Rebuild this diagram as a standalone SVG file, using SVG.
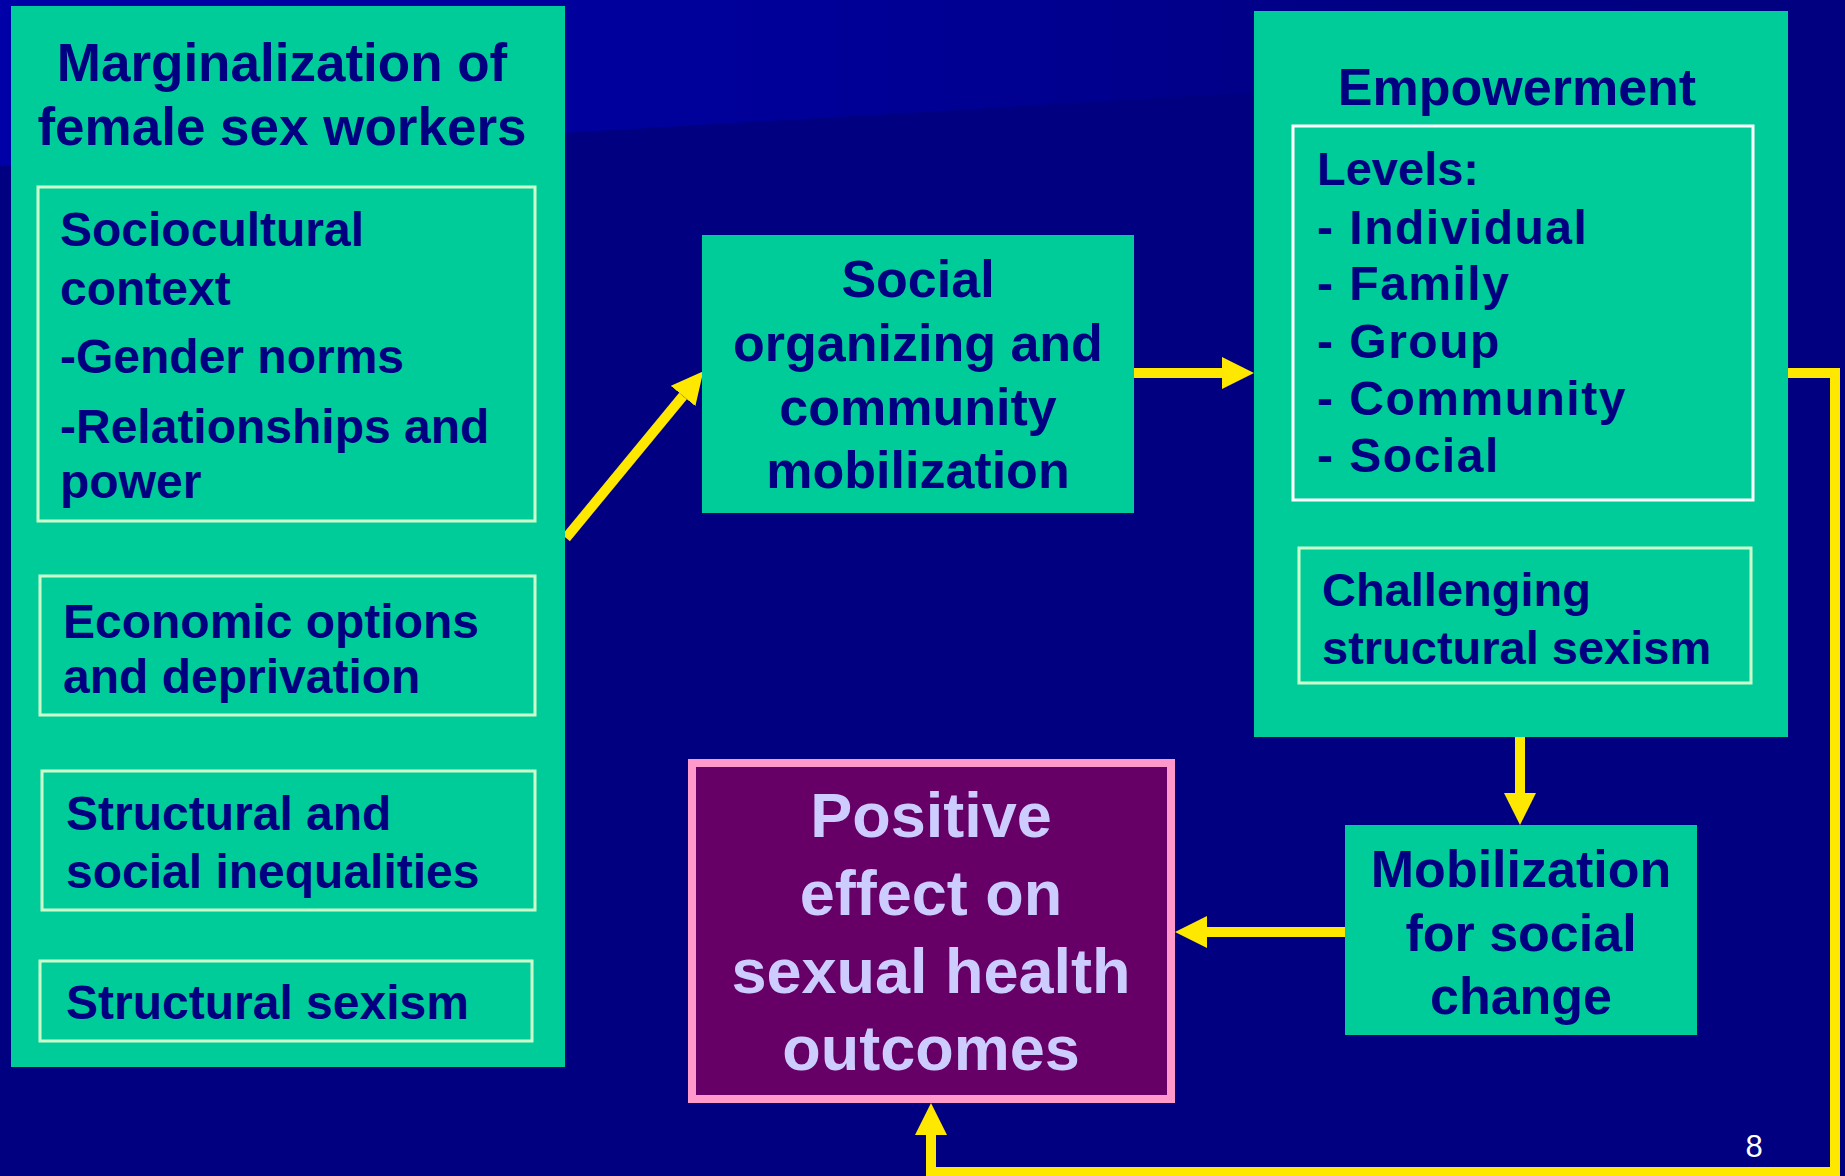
<svg xmlns="http://www.w3.org/2000/svg" width="1845" height="1176" viewBox="0 0 1845 1176">
<style>
.node{fill:#00CC99}
.sub{fill:none;stroke:#CCFFCC;stroke-width:3}
.subw{fill:none;stroke:#FFFFFF;stroke-width:3}
.t{font-family:"Liberation Sans",Arial,sans-serif;font-weight:bold;fill:#000080}
.c{text-anchor:middle}
.conn{fill:none;stroke:#FFE800;stroke-width:10;stroke-linejoin:miter}
</style>
<defs>
<linearGradient id="band" x1="0" y1="0" x2="1845" y2="0" gradientUnits="userSpaceOnUse">
<stop offset="0" stop-color="#0000A8"/>
<stop offset="0.45" stop-color="#000098"/>
<stop offset="0.75" stop-color="#000084"/>
<stop offset="1" stop-color="#000080"/>
</linearGradient>
<marker id="ah" viewBox="0 -16 32 32" refX="0" refY="0" markerWidth="32" markerHeight="32" markerUnits="userSpaceOnUse" orient="auto">
<path d="M0,-16 L32,0 L0,16 z" fill="#FFE800"/>
</marker>
</defs>
<rect x="0" y="0" width="1845" height="1176" fill="#000080"/>
<polygon points="0,0 1845,0 1845,58 0,166" fill="url(#band)"/>

<g id="connectors">
<path class="conn" d="M566,538 L683,396" marker-end="url(#ah)"/>
<path class="conn" d="M1134,373 H1222" marker-end="url(#ah)"/>
<path class="conn" d="M1520,737 V793" marker-end="url(#ah)"/>
<path class="conn" d="M1345,932 H1207" marker-end="url(#ah)"/>
<path class="conn" d="M1788,373 H1835 V1172 H931 V1135" marker-end="url(#ah)"/>
</g>

<g id="marginalization">
<rect class="node" x="11" y="6" width="554" height="1061"/>
<text class="t c" x="282" y="81" font-size="53">Marginalization of</text>
<text class="t c" x="282" y="145" font-size="53">female sex workers</text>
<rect class="sub" x="38" y="187" width="497" height="334"/>
<text class="t" x="60" y="246" font-size="48">Sociocultural</text>
<text class="t" x="60" y="305" font-size="48">context</text>
<text class="t" x="60" y="373" font-size="48">-Gender norms</text>
<text class="t" x="60" y="443" font-size="48">-Relationships and</text>
<text class="t" x="60" y="498" font-size="48">power</text>
<rect class="sub" x="40" y="576" width="495" height="139"/>
<text class="t" x="63" y="638" font-size="48">Economic options</text>
<text class="t" x="63" y="693" font-size="48">and deprivation</text>
<rect class="sub" x="42" y="771" width="493" height="139"/>
<text class="t" x="66" y="830" font-size="48">Structural and</text>
<text class="t" x="66" y="888" font-size="48">social inequalities</text>
<rect class="sub" x="40" y="961" width="492" height="80"/>
<text class="t" x="66" y="1019" font-size="48">Structural sexism</text>
</g>

<g id="social-organizing">
<rect class="node" x="702" y="235" width="432" height="278"/>
<text class="t c" x="918" y="297" font-size="52">Social</text>
<text class="t c" x="918" y="361" font-size="52">organizing and</text>
<text class="t c" x="918" y="425" font-size="52">community</text>
<text class="t c" x="918" y="488" font-size="52">mobilization</text>
</g>

<g id="empowerment">
<rect class="node" x="1254" y="11" width="534" height="726"/>
<text class="t c" x="1517" y="105" font-size="52">Empowerment</text>
<rect class="subw" x="1293" y="126" width="460" height="374"/>
<text class="t" x="1317" y="185" font-size="47">Levels:</text>
<text class="t" x="1317" y="244" font-size="48" letter-spacing="1.5">- Individual</text>
<text class="t" x="1317" y="300" font-size="48" letter-spacing="1.5">- Family</text>
<text class="t" x="1317" y="358" font-size="48" letter-spacing="1.5">- Group</text>
<text class="t" x="1317" y="415" font-size="48" letter-spacing="1.5">- Community</text>
<text class="t" x="1317" y="472" font-size="48" letter-spacing="1.5">- Social</text>
<rect class="sub" x="1299" y="548" width="452" height="135"/>
<text class="t" x="1322" y="606" font-size="47">Challenging</text>
<text class="t" x="1322" y="664" font-size="47">structural sexism</text>
</g>

<g id="mobilization">
<rect class="node" x="1345" y="825" width="352" height="210"/>
<text class="t c" x="1521" y="887" font-size="52">Mobilization</text>
<text class="t c" x="1521" y="951" font-size="52">for social</text>
<text class="t c" x="1521" y="1014" font-size="52">change</text>
</g>

<g id="positive-effect">
<rect x="692" y="763" width="479" height="336" fill="#660066" stroke="#FF99CC" stroke-width="8"/>
<text class="t c" x="931" y="837" font-size="63" fill="#CCCCFF" style="fill:#CCCCFF">Positive</text>
<text class="t c" x="931" y="915" font-size="63" style="fill:#CCCCFF">effect on</text>
<text class="t c" x="931" y="993" font-size="63" style="fill:#CCCCFF">sexual health</text>
<text class="t c" x="931" y="1070" font-size="63" style="fill:#CCCCFF">outcomes</text>
</g>

<text x="1754" y="1157" font-family="Liberation Sans, Arial, sans-serif" font-size="31" fill="#FFFFFF" text-anchor="middle">8</text>
</svg>
